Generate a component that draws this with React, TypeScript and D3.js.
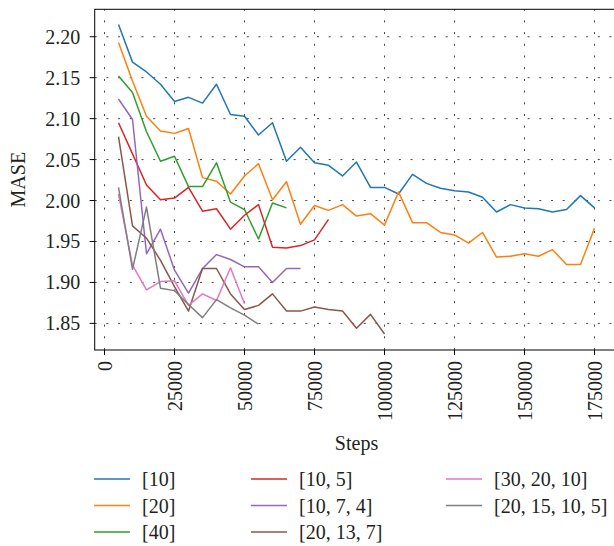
import React from "react";
import * as d3 from "d3";

const steps = [
  5000, 10000, 15000, 20000, 25000, 30000, 35000, 40000, 45000, 50000,
  55000, 60000, 65000, 70000, 75000, 80000, 85000, 90000, 95000, 100000,
  105000, 110000, 115000, 120000, 125000, 130000, 135000, 140000, 145000, 150000,
  155000, 160000, 165000, 170000, 175000,
];

const mase10 = [
  2.215, 2.169, 2.157, 2.142, 2.121, 2.126, 2.119, 2.142, 2.105, 2.103,
  2.08, 2.095, 2.048, 2.065, 2.046, 2.043, 2.03, 2.047, 2.016, 2.016,
  2.008, 2.032, 2.021, 2.015, 2.012, 2.0105, 2.004, 1.986, 1.995, 1.991,
  1.99, 1.986, 1.989, 2.006, 1.991,
];
const mase20 = [
  2.193, 2.146, 2.103, 2.085, 2.082, 2.088, 2.028, 2.0235, 2.008, 2.03,
  2.045, 2.001, 2.023, 1.971, 1.994, 1.988, 1.995, 1.981, 1.984, 1.97,
  2.0105, 1.973, 1.973, 1.961, 1.958, 1.948, 1.961, 1.931, 1.932, 1.935,
  1.932, 1.94, 1.922, 1.922, 1.966,
];
const mase40 = [2.152, 2.132, 2.084, 2.048, 2.054, 2.017, 2.017, 2.046, 1.998, 1.989, 1.953, 1.997, 1.991];
const mase10_5 = [2.095, 2.057, 2.019, 2.001, 2.003, 2.016, 1.987, 1.99, 1.965, 1.982, 1.995, 1.943, 1.942, 1.945, 1.952, 1.977];
const mase10_7_4 = [2.124, 2.099, 1.935, 1.965, 1.915, 1.887, 1.917, 1.934, 1.928, 1.919, 1.919, 1.9, 1.917, 1.917];
const mase20_13_7 = [
  2.078, 1.969, 1.954, 1.927, 1.895, 1.865, 1.917, 1.917, 1.886, 1.867,
  1.872, 1.886, 1.865, 1.865, 1.87, 1.867, 1.865, 1.844, 1.861, 1.837,
];
const mase30_20_10 = [2.008, 1.921, 1.891, 1.901, 1.902, 1.872, 1.886, 1.878, 1.918, 1.874];
const mase20_15_10_5 = [2.016, 1.916, 1.992, 1.893, 1.89, 1.873, 1.857, 1.879, 1.869, 1.86, 1.849];

const seriesNames = ["[10]", "[20]", "[40]", "[10, 5]", "[10, 7, 4]", "[20, 13, 7]", "[30, 20, 10]", "[20, 15, 10, 5]"];
const seriesValues = [mase10, mase20, mase40, mase10_5, mase10_7_4, mase20_13_7, mase30_20_10, mase20_15_10_5];
const seriesColors = ["#1f77b4", "#ff7f0e", "#2ca02c", "#d62728", "#9467bd", "#8c564b", "#e377c2", "#7f7f7f"];

const xTicks = [0, 25000, 50000, 75000, 100000, 125000, 150000, 175000];
const yTicks = [1.85, 1.9, 1.95, 2.0, 2.05, 2.1, 2.15, 2.2];

const FONT = "'Liberation Serif', 'DejaVu Serif', serif";

export default function App() {
  const W = 614;
  const H = 546;
  const left = 94.7;
  const right = 618.3;
  const top = 9.3;
  const bottom = 350;
  const x = d3.scaleLinear().domain([-3500, 183500]).range([left, right]);
  const y = d3.scaleLinear().domain([1.8175, 2.2335]).range([bottom, top]);
  const line = d3
    .line<[number, number]>()
    .x((d) => x(d[0]))
    .y((d) => y(d[1]));

  const fs = 20;
  const legendCols = [94, 251, 446];
  const legendRows = [479, 505.5, 532];

  return (
    <svg
      width={W}
      height={H}
      style={{ position: "absolute", left: 0, top: 0, background: "#fff" }}
      fontFamily={FONT}
    >
      <defs>
        <clipPath id="plotclip">
          <rect x={left} y={top} width={right - left} height={bottom - top} />
        </clipPath>
      </defs>
      {/* grid */}
      <g stroke="#444" strokeWidth={1} strokeDasharray="2,9.7">
        {yTicks.map((t) => (
          <line key={"gy" + t} x1={left} x2={right} y1={y(t)} y2={y(t)} />
        ))}
        {xTicks.map((t) => (
          <line key={"gx" + t} x1={x(t)} x2={x(t)} y1={bottom} y2={top} />
        ))}
      </g>
      {/* series */}
      <g clipPath="url(#plotclip)" fill="none" strokeWidth={1.5} strokeLinejoin="round">
        {seriesValues.map((vals, i) => (
          <path
            key={seriesNames[i]}
            d={line(vals.map((v, j) => [steps[j], v] as [number, number])) || ""}
            stroke={seriesColors[i]}
          />
        ))}
      </g>
      {/* frame */}
      <rect x={left} y={top} width={right - left} height={bottom - top} fill="none" stroke="#000" strokeWidth={1} />
      {/* y axis */}
      {yTicks.map((t) => (
        <g key={"yt" + t}>
          <line x1={left - 5} x2={left} y1={y(t)} y2={y(t)} stroke="#000" strokeWidth={1} />
          <text x={left - 14.5} y={y(t)} dy="0.35em" textAnchor="end" fontSize={fs} fill="#231f20">
            {t.toFixed(2)}
          </text>
        </g>
      ))}
      {/* x axis */}
      {xTicks.map((t) => (
        <g key={"xt" + t}>
          <line x1={x(t)} x2={x(t)} y1={bottom} y2={bottom + 5} stroke="#000" strokeWidth={1} />
          <text
            transform={`translate(${x(t)},${bottom + 11}) rotate(-90)`}
            dy="0.35em"
            textAnchor="end"
            fontSize={fs}
            fill="#231f20"
          >
            {String(t)}
          </text>
        </g>
      ))}
      <text x={(left + right) / 2} y={450} textAnchor="middle" fontSize={fs} fill="#231f20">
        Steps
      </text>
      <text
        transform={`translate(18,${(top + bottom) / 2}) rotate(-90)`}
        dy="0.35em"
        textAnchor="middle"
        fontSize={fs}
        fill="#231f20"
      >
        MASE
      </text>
      {/* legend */}
      {seriesNames.map((name, i) => {
        const col = Math.floor(i / 3);
        const row = i % 3;
        const lx = legendCols[col];
        const ly = legendRows[row];
        return (
          <g key={"lg" + name}>
            <line x1={lx} x2={lx + 36} y1={ly} y2={ly} stroke={seriesColors[i]} strokeWidth={1.5} />
            <text x={lx + 48} y={ly} dy="0.35em" fontSize={fs} fill="#231f20">
              {name}
            </text>
          </g>
        );
      })}
    </svg>
  );
}
